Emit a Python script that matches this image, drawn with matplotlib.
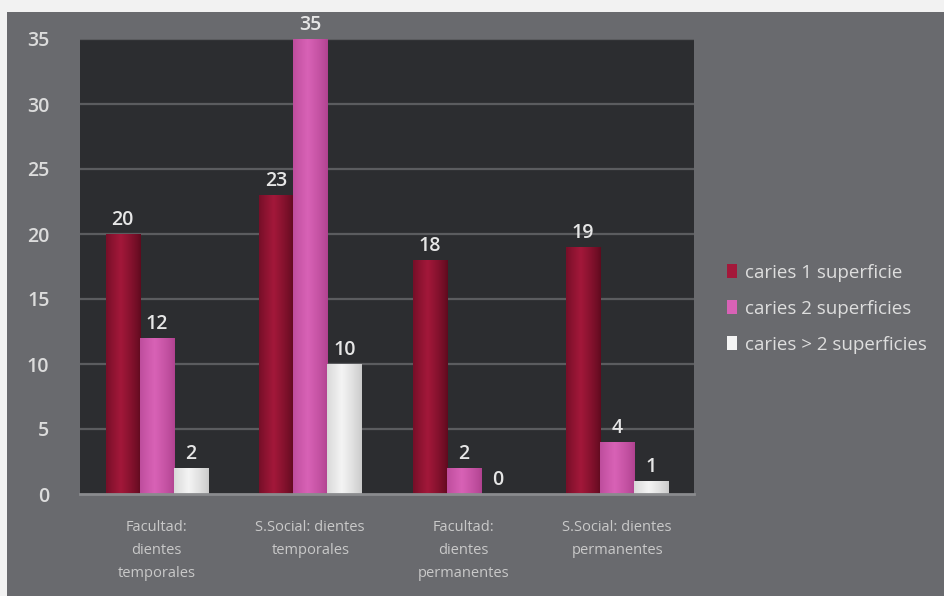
import numpy as np
import matplotlib
matplotlib.use("Agg")
import matplotlib.pyplot as plt
from matplotlib.patches import Rectangle, Patch
from matplotlib.colors import to_rgb

categories = ["Facultad:\ndientes\ntemporales",
              "S.Social: dientes\ntemporales",
              "Facultad:\ndientes\npermanentes",
              "S.Social: dientes\npermanentes"]
series_names = ["caries 1 superficie", "caries 2 superficies", "caries > 2 superficies"]
caries_1 = [20, 23, 18, 19]
caries_2 = [12, 35, 2, 4]
caries_3 = [2, 10, 0, 1]
yticks = [0, 5, 10, 15, 20, 25, 30, 35]

series = [caries_1, caries_2, caries_3]
base_colors = ["#a3183a", "#d862b6", "#f4f4f4"]
edge_colors = ["#5e0a1e", "#b0428f", "#c9c9c9"]

W, H = 945, 596
fig = plt.figure(figsize=(W / 100, H / 100), dpi=100)
fig.patch.set_facecolor("#696a6e")

# light border strips along the top and left
fig.patches.append(Rectangle((0, 1 - 12 / H), 1, 12 / H, transform=fig.transFigure,
                             facecolor="#f2f2f2", edgecolor="none", zorder=0))
fig.patches.append(Rectangle((0, 0), 7 / W, 1, transform=fig.transFigure,
                             facecolor="#f2f2f2", edgecolor="none", zorder=0))

ax = fig.add_axes([80 / W, 1 - 494 / H, (694 - 80) / W, (494 - 39) / H])
ax.set_facecolor("#2c2d30")
ax.set_xlim(-0.5, 3.5)
ax.set_ylim(0, 35)

for y in yticks[1:]:
    ax.axhline(y, color="#5b5c5f", lw=1.6, zorder=1)

bw = 0.222
offsets = [-bw, 0, bw]
x = np.arange(len(categories))


def gradient(c_mid, c_edge, n=64):
    t = np.linspace(0, 1, n)
    # brightest a little left of centre, darker toward both sides
    w = np.clip(1 - np.abs(t - 0.42) / 0.58, 0, 1) ** 0.8
    mid = np.array(to_rgb(c_mid))
    edge = np.array(to_rgb(c_edge))
    return (edge[None, :] * (1 - w[:, None]) + mid[None, :] * w[:, None])[None, :, :]


for vals, off, cm, ce in zip(series, offsets, base_colors, edge_colors):
    img = gradient(cm, ce)
    for xi, v in zip(x, vals):
        x0 = xi + off - bw / 2
        if v > 0:
            ax.imshow(img, extent=(x0, x0 + bw, 0, v), aspect="auto",
                      interpolation="bilinear", zorder=2)
        ax.annotate(str(v), (xi + off, v), xytext=(0, 3), textcoords="offset points",
                    ha="center", va="bottom", color="#e6e6e6", fontsize=14,
                    family="Open Sans", fontweight="semibold", zorder=3)

ax.set_xlim(-0.5, 3.5)
ax.set_ylim(0, 35)
ax.set_yticks(yticks)
ax.set_yticklabels([str(t) for t in yticks], color="#dcdcdc", fontsize=14,
                   family="Open Sans", fontweight="semibold")
ax.set_xticks(x)
ax.set_xticklabels(categories, color="#c9c9c9", fontsize=10.5, family="Open Sans",
                   linespacing=1.7)
ax.tick_params(axis="x", length=0, pad=19)
ax.tick_params(axis="y", length=0, pad=22)
for s in ["top", "right", "left"]:
    ax.spines[s].set_visible(False)
ax.spines["bottom"].set_color("#8a8b8e")
ax.spines["bottom"].set_linewidth(2)

handles = [Patch(facecolor=c, edgecolor="none") for c in base_colors]
fig.legend(handles, series_names, loc="upper left", bbox_to_anchor=(710 / W, 1 - 247 / H),
           frameon=False, labelcolor="#dedede", prop={"family": "Open Sans", "size": 13.5},
           handlelength=0.55, handleheight=0.75, handletextpad=0.4, labelspacing=0.95)

fig.savefig("out.png", dpi=100, facecolor=fig.get_facecolor())
